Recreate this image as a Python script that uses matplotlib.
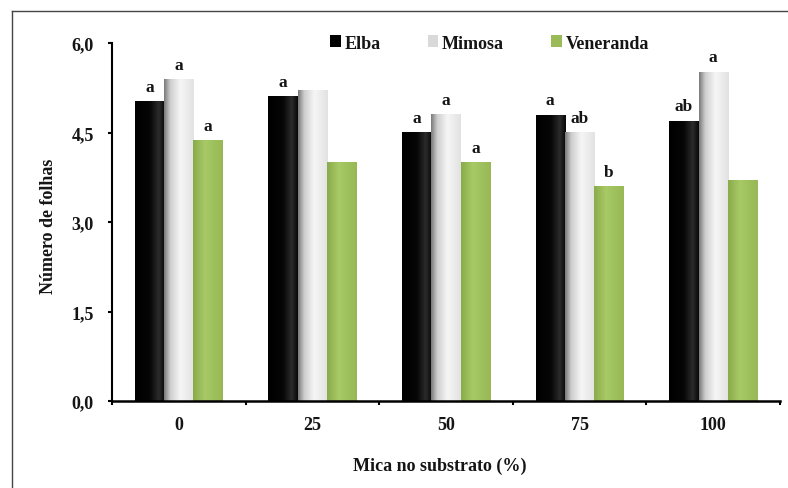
import numpy as np
import matplotlib
matplotlib.use('Agg')
import matplotlib.pyplot as plt
from matplotlib.colors import LinearSegmentedColormap
from matplotlib.lines import Line2D

# data
categories = ['0', '25', '50', '75', '100']
series = ['Elba', 'Mimosa', 'Veneranda']
elba = [5.03, 5.11, 4.51, 4.80, 4.70]
mimosa = [5.40, 5.22, 4.81, 4.51, 5.52]
veneranda = [4.37, 4.00, 4.00, 3.60, 3.70]
elba_letters = ['a', 'a', 'a', 'a', 'ab']
mimosa_letters = ['a', '', 'a', 'ab', 'a']
veneranda_letters = ['a', '', 'a', 'b', '']
yticks = [0.0, 1.5, 3.0, 4.5, 6.0]

plt.rcParams['font.family'] = 'Liberation Serif'
plt.rcParams['font.weight'] = 'bold'
plt.rcParams['axes.labelweight'] = 'bold'
txt = '#151515'

# horizontal shading of each bar, like the Excel gradient fill
cmaps = [
    LinearSegmentedColormap.from_list('blk', [(0, '#000000'), (0.5, '#060606'), (0.8, '#2c2c2c'), (1, '#080808')]),
    LinearSegmentedColormap.from_list('wht', [(0, '#7a7a7a'), (0.2, '#cdcdcd'), (0.55, '#f6f6f6'), (1, '#e2e2e2')]),
    LinearSegmentedColormap.from_list('grn', [(0, '#8aab4a'), (0.4, '#a8ca66'), (1, '#97b855')]),
]
face = ['#000000', '#d9d9d9', '#9bbb59']

fig = plt.figure(figsize=(7.88, 4.89), dpi=100)
ax = fig.add_axes([112/788, 1 - 402/489, 668/788, 358/489])

x = np.arange(len(categories))
w = 0.22
grad = np.linspace(0, 1, 64).reshape(1, -1)
for i, (vals, letters) in enumerate(zip([elba, mimosa, veneranda],
                                         [elba_letters, mimosa_letters, veneranda_letters])):
    pos = x + (i - 1) * w
    bars = ax.bar(pos, vals, width=w, color=face[i], label=series[i], zorder=2, linewidth=0)
    for b in bars:
        x0, h = b.get_x(), b.get_height()
        im = ax.imshow(grad, cmap=cmaps[i], aspect='auto', interpolation='bicubic',
                       extent=(x0, x0 + b.get_width(), 0, h), zorder=2)
        im.set_clip_path(b)
    for p, v, l in zip(pos, vals, letters):
        if l:
            ax.text(p, v + 0.17, l, ha='center', va='baseline', fontsize=12.5, color=txt)

ax.set_xlim(-0.5, 4.5)
ax.set_ylim(0, 6)
ax.set_yticks(yticks)
ax.set_yticklabels([f'{t:.1f}'.replace('.', ',') for t in yticks])
ax.set_xticks(x)
ax.set_xticklabels(categories)
ax.set_xticks(np.arange(-0.5, 5, 1), minor=True)
ax.tick_params(axis='x', which='major', length=0, pad=11, labelsize=13, labelcolor=txt)
ax.tick_params(axis='x', which='minor', length=3, width=1.5, direction='out')
ax.tick_params(axis='y', length=3, width=1.5, pad=10, labelsize=13, labelcolor=txt)

for s in ['top', 'right']:
    ax.spines[s].set_visible(False)
ax.spines['left'].set_linewidth(1.5)
ax.spines['bottom'].set_linewidth(1.8)

ax.set_xlabel('Mica no substrato (%)', fontsize=13, color=txt)
ax.xaxis.set_label_coords(0.49, -0.155)
ax.set_ylabel('Número de folhas', fontsize=13, color=txt)
ax.yaxis.set_label_coords(-0.083, 0.49)

ax.legend(loc='center', bbox_to_anchor=(0.565, 1.0), ncol=3, frameon=False,
          fontsize=13, handlelength=0.6, handleheight=0.6, handletextpad=0.2,
          columnspacing=2.6, labelcolor=txt)

# thin frame around the figure (left and top edges visible)
fig.add_artist(Line2D([12/788, 12/788], [0, 1 - 12/489], color='#444444', lw=1))
fig.add_artist(Line2D([12/788, 1], [1 - 12/489, 1 - 12/489], color='#444444', lw=1))

fig.savefig('out.png', dpi=100)
